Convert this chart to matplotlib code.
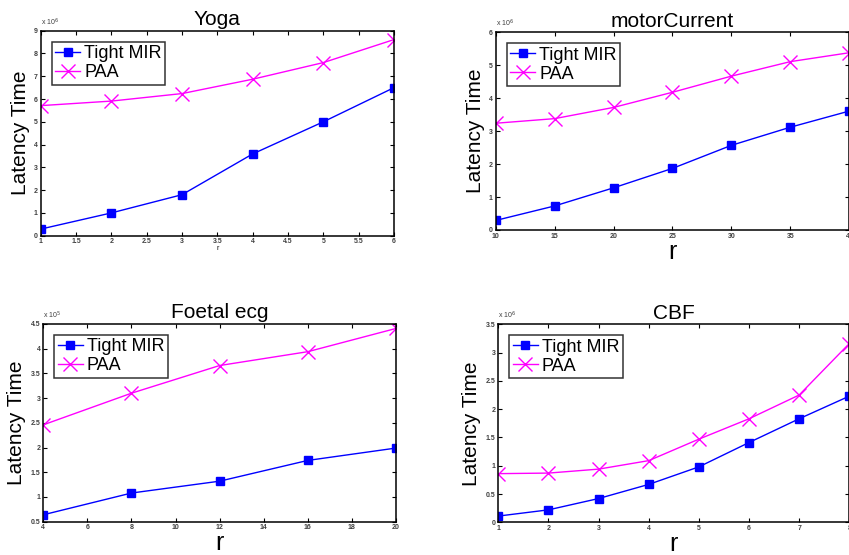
import matplotlib
matplotlib.use('Agg')
import matplotlib.pyplot as plt

plt.rcParams['font.family'] = ['Liberation Sans', 'DejaVu Sans']

# data
yoga_r = [1, 2, 3, 4, 5, 6]
yoga_mir = [0.29, 1.0, 1.8, 3.59, 5.0, 6.5]
yoga_paa = [5.71, 5.91, 6.24, 6.87, 7.6, 8.61]

motor_r = [10, 15, 20, 25, 30, 35, 40]
motor_mir = [0.29, 0.73, 1.28, 1.87, 2.57, 3.12, 3.61]
motor_paa = [3.24, 3.38, 3.72, 4.18, 4.67, 5.11, 5.38]

foetal_r = [4, 8, 12, 16, 20]
foetal_mir = [0.64, 1.08, 1.32, 1.74, 1.99]
foetal_paa = [2.46, 3.1, 3.66, 3.94, 4.41]

cbf_r = [1, 2, 3, 4, 5, 6, 7, 8]
cbf_mir = [0.11, 0.22, 0.42, 0.67, 0.98, 1.41, 1.83, 2.23]
cbf_paa = [0.86, 0.87, 0.94, 1.09, 1.47, 1.83, 2.25, 3.16]

W, H = 849, 555
fig = plt.figure(figsize=(W / 100, H / 100), dpi=100)

def box(l, r, t, b):
    return [l / W, 1 - b / H, (r - l) / W, (b - t) / H]

panels = [
    ('Yoga', yoga_r, yoga_mir, yoga_paa, box(40.7, 394, 30.7, 235.7),
     (0, 9), [0, 1, 2, 3, 4, 5, 6, 7, 8, 9], [1, 1.5, 2, 2.5, 3, 3.5, 4, 4.5, 5, 5.5, 6], '6', 5),
    ('motorCurrent', motor_r, motor_mir, motor_paa, box(495.7, 849.3, 32.3, 230),
     (0, 6), [0, 1, 2, 3, 4, 5, 6], [10, 15, 20, 25, 30, 35, 40], '6', 18),
    ('Foetal ecg', foetal_r, foetal_mir, foetal_paa, box(43.3, 396, 324, 521.7),
     (0.5, 4.5), [0.5, 1, 1.5, 2, 2.5, 3, 3.5, 4, 4.5], [4, 6, 8, 10, 12, 14, 16, 18, 20], '5', 18),
    ('CBF', cbf_r, cbf_mir, cbf_paa, box(498.3, 849.3, 324.3, 522.3),
     (0, 3.5), [0, 0.5, 1, 1.5, 2, 2.5, 3, 3.5], [1, 2, 3, 4, 5, 6, 7, 8], '6', 18),
]

for title, r, mir, paa, pos, ylim, yt, xt, expo, rsize in panels:
    ax = fig.add_axes(pos)
    ax.plot(r, mir, color='#0000ff', lw=1.0, marker='s', ms=5.2, label='Tight MIR')
    ax.plot(r, paa, color='#ff00ff', lw=1.0, marker='x', ms=9.5, mew=1.0, label='PAA')
    ax.set_xlim(xt[0], xt[-1])
    ax.set_ylim(*ylim)
    ax.set_xticks(xt)
    ax.set_yticks(yt)
    ax.set_xticklabels(['%g' % v for v in xt])
    ax.set_yticklabels(['%g' % v for v in yt])
    ax.tick_params(direction='in', length=3, width=0.8, top=True, right=True,
                   labelsize=5, labelcolor='#404040', pad=2)
    for lab in ax.get_xticklabels() + ax.get_yticklabels():
        lab.set_fontweight('bold')
    for s in ax.spines.values():
        s.set_linewidth(1.1)
    ax.set_title(title, fontsize=15, pad=4)
    ax.set_ylabel('Latency Time', fontsize=15, labelpad=3)
    ax.set_xlabel('r', fontsize=rsize, labelpad=0)
    ax.text(0.0, 1.015, r'x 10$^{%s}$' % expo, transform=ax.transAxes,
            fontsize=5, color='#404040', ha='left', va='bottom')
    leg = ax.legend(loc='upper left', fontsize=13, frameon=True, fancybox=False,
                    edgecolor='black', borderpad=0.2, handlelength=1.4,
                    handletextpad=0.2, labelspacing=0.1, borderaxespad=0.6)
    leg.get_frame().set_linewidth(1.1)

fig.savefig('out.png', dpi=100)
